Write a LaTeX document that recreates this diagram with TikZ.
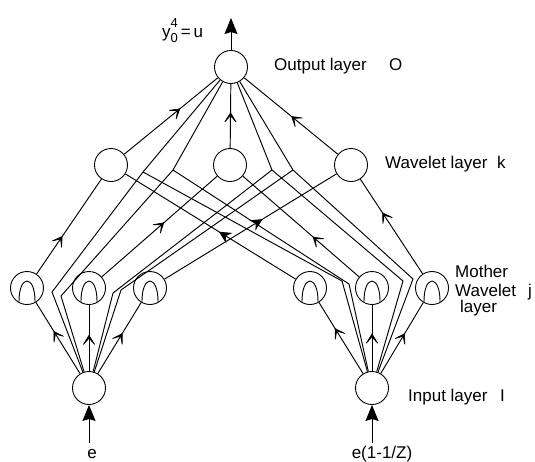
\documentclass[tikz,border=0pt]{standalone}
\usepackage{fontspec}
\setmainfont{Liberation Sans}
\usetikzlibrary{arrows.meta,decorations.markings}
\begin{document}
\begin{tikzpicture}[x=1pt,y=-1pt,
  neuron/.style={circle,draw,line width=0.9pt,minimum size=33pt,inner sep=0pt},
  conn/.style={line width=0.95pt},
  midarr/.style={postaction={decorate,decoration={markings,mark=at position #1 with {\arrow{Stealth[length=13pt,width=16pt,inset=9pt,line width=0.7pt]}}}}},
  midfill/.style={postaction={decorate,decoration={markings,mark=at position #1 with {\arrow{Stealth[length=12pt,width=12pt,inset=4pt]}}}}},
  bigarr/.style={-{Stealth[length=16pt,width=13pt,inset=2pt]}},
  lbl/.style={anchor=base west,inner sep=0pt,font=\fontsize{17}{20}\selectfont},
  archsym/.pic={\draw[line width=0.9pt] (-8,14.3) .. controls (-8.5,-14) and (8.5,-14) .. (8,14.3);}
]
\useasboundingbox[fill=white] (0,0) rectangle (535,461);

% nodes
\node[neuron] (O) at (231,67) {};
\node[neuron] (K1) at (111,165) {};
\node[neuron] (K2) at (230,165) {};
\node[neuron] (K3) at (351,165) {};
\node[neuron] (J1) at (27,288) {};
\node[neuron] (J2) at (89,288) {};
\node[neuron] (J3) at (150,288) {};
\node[neuron] (J4) at (310,288) {};
\node[neuron] (J5) at (372,288) {};
\node[neuron] (J6) at (432,288) {};
\node[neuron] (I1) at (89,388) {};
\node[neuron] (I2) at (372,388) {};
\foreach \n in {J1,J2,J3,J4,J5,J6} \pic at (\n) {archsym};

% bend points
\coordinate (A1) at (143,172);
\coordinate (A2) at (173,170);
\coordinate (B1) at (272,170);
\coordinate (B2) at (293,170);
\coordinate (L1) at (52,292);
\coordinate (L2) at (61,296);
\coordinate (R1) at (113,293);
\coordinate (R2) at (121,290);
\coordinate (L3) at (342,281);
\coordinate (L4) at (349,284);
\coordinate (R3) at (403,281);
\coordinate (R4) at (413,279);

% input / output arrows
\coordinate (outtip) at (231,18);
\coordinate (in1) at (89,443);
\coordinate (in2) at (372,443);
\draw[conn,bigarr] (O) -- (outtip);
\draw[conn,bigarr] (in1) -- (I1);
\draw[conn,bigarr] (in2) -- (I2);

% input -> mother wavelet
\draw[conn,midarr=0.6] (I1) -- (J1);
\draw[conn,midarr=0.55] (I1) -- (J2);
\draw[conn,midarr=0.57] (I1) -- (J3);
\draw[conn,midarr=0.64] (I2) -- (J4);
\draw[conn,midarr=0.57] (I2) -- (J5);
\draw[conn,midarr=0.57] (I2) -- (J6);

% mother wavelet -> wavelet
\draw[conn,midarr=0.4] (J1) -- (K1);
\draw[conn,midfill=0.45] (J4) -- (K1);
\draw[conn,midarr=0.54] (J2) -- (K2);
\draw[conn,midarr=0.4] (J5) -- (K2);
\draw[conn,midfill=0.57] (J3) -- (K3);
\draw[conn,midarr=0.65] (J6) -- (K3);

% wavelet -> output
\draw[conn,midarr=0.6] (K1) -- (O);
\draw[conn,midarr=0.56] (K2) -- (O);
\draw[conn,midarr=0.5] (K3) -- (O);

% direct input -> output links
\draw[conn] (I1) -- (L1) -- (A1) -- (O);
\draw[conn] (I1) -- (L2) -- (A2) -- (O);
\draw[conn] (I2) -- (L3) -- (A1);
\draw[conn] (I2) -- (L4) -- (A2);
\draw[conn] (I2) -- (R3) -- (B1) -- (O);
\draw[conn] (I2) -- (R4) -- (B2) -- (O);
\draw[conn] (I1) -- (R1) -- (B1);
\draw[conn] (I1) -- (R2) -- (B2);

% labels
\node[lbl] (ylab) at (162,37) {y\rlap{\raisebox{1.1ex}{\fontsize{13}{13}\selectfont 4}}\raisebox{-0.6ex}{\fontsize{13}{13}\selectfont 0}\,=\,u};
\node[lbl] (tO) at (274,70) {Output layer};
\node[lbl] (tO2) at (389,70) {O};
\node[lbl] (tK) at (385,168) {Wavelet layer};
\node[lbl] (tK2) at (497,168) {k};
\node[lbl] (tJa) at (455,277) {Mother};
\node[lbl] (tJb) at (455,296) {Wavelet};
\node[lbl] (tJc) at (528,296) {j};
\node[lbl] (tJd) at (460,312) {layer};
\node[lbl] (tI) at (408,401) {Input layer};
\node[lbl] (tI2) at (500,401) {I};
\node[lbl,anchor=base] (te1) at (92,458) {e};
\node[lbl,anchor=base] (te2) at (382,458) {e(1-1/Z)};
\end{tikzpicture}
\end{document}
